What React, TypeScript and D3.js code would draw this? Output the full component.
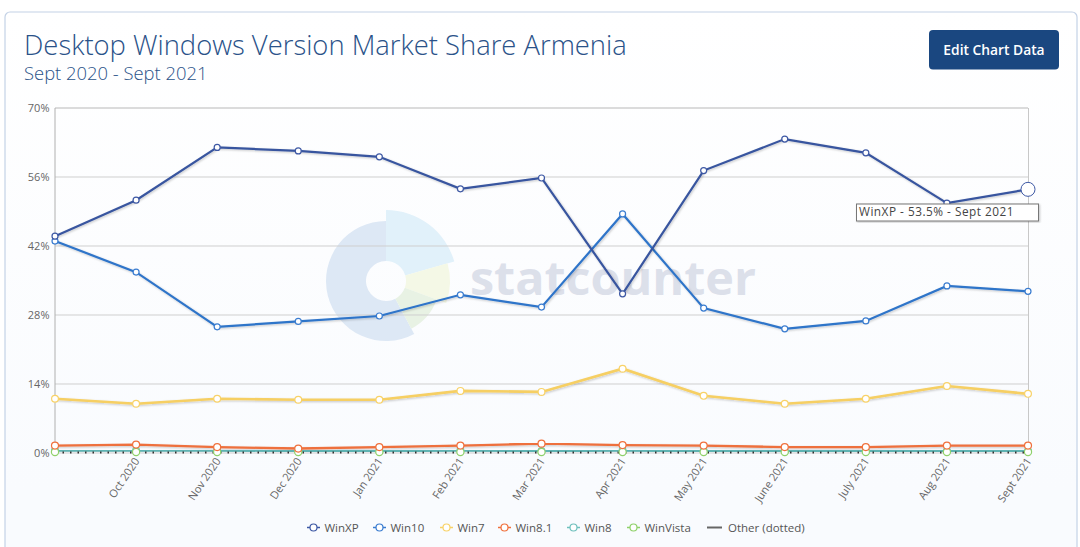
import React from "react";
import * as d3 from "d3";

const months = ["Sept 2020","Oct 2020","Nov 2020","Dec 2020","Jan 2021","Feb 2021","Mar 2021","Apr 2021","May 2021","June 2021","July 2021","Aug 2021","Sept 2021"];
const winXP = [44.0,51.3,62.0,61.3,60.1,53.6,55.8,32.3,57.3,63.7,60.9,50.7,53.5];
const win10 = [43.0,36.7,25.6,26.7,27.8,32.1,29.6,48.5,29.4,25.2,26.8,33.9,32.8];
const win7 = [11.0,10.0,11.0,10.8,10.8,12.6,12.4,17.1,11.6,10.0,11.0,13.6,12.0];
const win81 = [1.5,1.7,1.2,0.9,1.2,1.5,1.9,1.6,1.5,1.2,1.2,1.5,1.5];
const win8 = [0.5,0.5,0.5,0.4,0.4,0.5,0.4,0.5,0.4,0.4,0.4,0.4,0.4];
const winVista = [0.2,0.2,0.2,0.2,0.2,0.2,0.2,0.2,0.2,0.2,0.2,0.2,0.2];
const other = [0.1,0.1,0.1,0.1,0.1,0.1,0.1,0.1,0.1,0.1,0.1,0.1,0.1];
const yTicks = [0,14,28,42,56,70];

const seriesList = [
  { name: "Win8", values: win8, color: "#5fb3b3", marker: "#6fc0bd", width: 2.2, r: 3.4 },
  { name: "WinVista", values: winVista, color: "#76bd58", marker: "#8fd16a", width: 3.2, r: 3.6 },
  { name: "Win8.1", values: win81, color: "#ee6f3c", marker: "#f0703c", width: 2.4, r: 3.5 },
  { name: "Win7", values: win7, color: "#f6cf63", marker: "#f8d268", width: 2.6, r: 3.4 },
  { name: "Win10", values: win10, color: "#2f74c9", marker: "#3a7cd0", width: 2.2, r: 3 },
  { name: "WinXP", values: winXP, color: "#38559f", marker: "#3d58a4", width: 2.2, r: 3 },
];
const legendItems = [
  { name: "WinXP", color: "#3d58a4", x: 307 },
  { name: "Win10", color: "#3a7cd0", x: 373 },
  { name: "Win7", color: "#f8d268", x: 440 },
  { name: "Win8.1", color: "#f0703c", x: 498 },
  { name: "Win8", color: "#6fc0bd", x: 567 },
  { name: "WinVista", color: "#8fd16a", x: 627 },
];
const FONT = "'Open Sans', sans-serif";
const rad = Math.PI / 180;
const wedges = [
  { a0: -208, a1: 0, r: 60, fill: "#dde8f5" },
  { a0: 0, a1: 74, r: 71, fill: "#e1f1fa" },
  { a0: 74, a1: 110, r: 64, fill: "#f4f8e6" },
  { a0: 110, a1: 152, r: 54, fill: "#e8f2e4" },
];

export default function App() {
  const x = d3.scalePoint<string>().domain(months).range([55, 1028]);
  const y = d3.scaleLinear().domain([0, 70]).range([453, 108]);
  const line = d3.line<number>().x((_, i) => x(months[i])!).y((d) => y(d));
  const arc = d3.arc();
  const last = months[months.length - 1];
  return (
    <div style={{ position: "fixed", inset: 0, background: "#fff" }}>
      <svg width={1080} height={547} style={{ display: "block", fontFamily: FONT }}>
        <defs>
          <linearGradient id="bg" x1="0" y1="0" x2="0" y2="1">
            <stop offset="0" stopColor="#ffffff" />
            <stop offset="0.85" stopColor="#f9fbfe" />
            <stop offset="1" stopColor="#f9fbfe" />
          </linearGradient>
          <filter id="shadow" x="-5%" y="-5%" width="110%" height="115%">
            <feDropShadow dx="1" dy="1" stdDeviation="0.8" floodColor="#000" floodOpacity="0.22" />
          </filter>
        </defs>
        <rect x={5} y={12} width={1072} height={560} rx={5} fill="url(#bg)" stroke="#c4d2e6" strokeWidth={1.2} />
        <text x={24} y={55} fontSize={27.4} fontWeight={300} fill="#2a5289">Desktop Windows Version Market Share Armenia</text>
        <text x={24} y={80} fontSize={18.4} fontWeight={300} fill="#2a5289">Sept 2020 - Sept 2021</text>
        <rect x={929} y={30} width={130} height={39.5} rx={4} fill="#1a4780" />
        <text x={994} y={55} textAnchor="middle" fontSize={13.8} fontWeight={600} fill="#fff">Edit Chart Data</text>

        <g transform="translate(386,281)">
          {wedges.map((w, i) => (
            <path key={i} fill={w.fill} d={arc({ innerRadius: 20, outerRadius: w.r, startAngle: w.a0 * rad, endAngle: w.a1 * rad })!} />
          ))}
        </g>
        <text x={470} y={295} fontSize={46} fontWeight={700} fill="#dce0ea" textLength={286} lengthAdjust="spacingAndGlyphs">statcounter</text>

        {yTicks.map((t) => (
          <g key={t}>
            <line x1={55} x2={1028} y1={y(t)} y2={y(t)} stroke={t === 70 ? "#b8b8b8" : "#cfcfcf"} strokeWidth={1} />
            <text x={49.5} y={y(t) + 4} textAnchor="end" fontSize={11} fill="#666">{t}%</text>
          </g>
        ))}
        <line x1={55} x2={55} y1={108} y2={453} stroke="#b0b0b0" />
        <line x1={1028.5} x2={1028.5} y1={108} y2={453} stroke="#c8c8c8" />

        {months.slice(1).map((m) => (
          <text key={m} textAnchor="end" fontSize={11} fill="#666" transform={`translate(${x(m)! + 4},${461}) rotate(-56)`}>{m}</text>
        ))}

        {seriesList.map((s) => (
          <path key={s.name} d={line(s.values)!} fill="none" stroke={s.color} strokeWidth={s.width} filter="url(#shadow)" />
        ))}
        <path d={line(other)!} fill="none" stroke="#333" strokeWidth={2} strokeDasharray="1.5 6" />
        {seriesList.map((s) =>
          s.values.map((v, i) => (
            <circle key={s.name + i} cx={x(months[i])} cy={y(v)} r={s.r} fill="#fff" stroke={s.marker} strokeWidth={1.2} />
          ))
        )}
        <circle cx={x(last)} cy={y(winXP[winXP.length - 1])} r={7} fill="#fff" stroke="#3d58a4" strokeWidth={1} />

        <rect x={856.5} y={204} width={182} height={17} fill="#fff" stroke="#777" strokeWidth={1} filter="url(#shadow)" />
        <text x={859} y={216} fontSize={11.8} fill="#444" letterSpacing={0.5}>{`WinXP - ${winXP[winXP.length - 1]}% - ${last}`}</text>

        {legendItems.map((l) => (
          <g key={l.name}>
            <line x1={l.x} x2={l.x + 13} y1={527.5} y2={527.5} stroke={l.color} strokeWidth={1.5} />
            <circle cx={l.x + 6.5} cy={527.5} r={3.5} fill="#fff" stroke={l.color} strokeWidth={1.2} />
            <text x={l.x + 17.5} y={531.5} fontSize={11.5} fill="#555">{l.name}</text>
          </g>
        ))}
        <line x1={707} x2={722} y1={527.5} y2={527.5} stroke="#666" strokeWidth={2} />
        <text x={728} y={531.5} fontSize={11.5} fill="#555">Other (dotted)</text>
      </svg>
    </div>
  );
}
